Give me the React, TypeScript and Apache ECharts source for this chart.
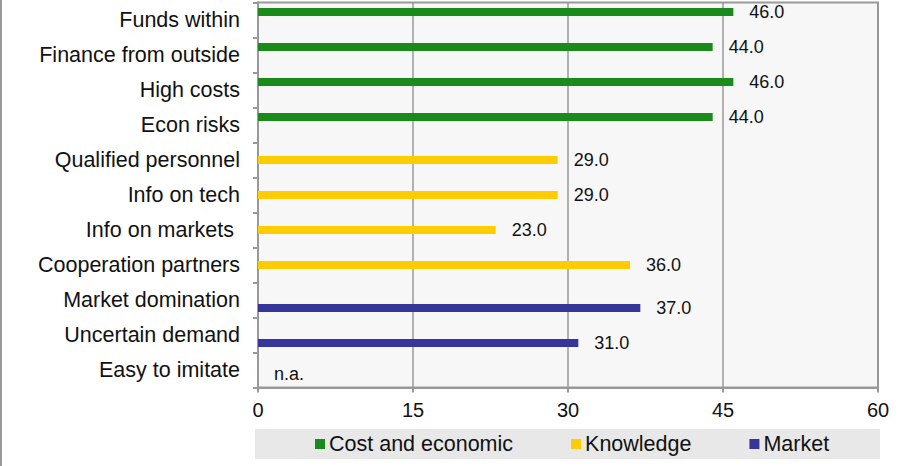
import React, { useEffect, useRef } from "react";
import * as echarts from "echarts";

const categories = [
  "Funds within",
  "Finance from outside",
  "High costs",
  "Econ risks",
  "Qualified personnel",
  "Info on tech",
  "Info on markets ",
  "Cooperation partners",
  "Market domination",
  "Uncertain demand",
  "Easy to imitate",
];
const costValues: (number | null)[] = [46, 44, 46, 44, null, null, null, null, null, null, null];
const knowledgeValues: (number | null)[] = [null, null, null, null, 29, 29, 23, 36, null, null, null];
const marketValues: (number | string | null)[] = [null, null, null, null, null, null, null, null, 37, 31, "n.a."];
const xTicks = { min: 0, max: 60, interval: 15 };
const seriesNames = ["Cost and economic", "Knowledge", "Market"];
const colors = ["#1a8a1a", "#ffcc00", "#35359a"];

const FONT = "'Liberation Sans', Arial, sans-serif";

export default function App() {
  const ref = useRef<HTMLDivElement>(null);
  useEffect(() => {
    if (!ref.current) return;
    const chart = echarts.init(ref.current, undefined, { renderer: "svg" });
    const label = {
      show: true,
      position: "right" as const,
      distance: 16,
      fontSize: 18,
      fontFamily: FONT,
      color: "#111",
      formatter: (p: any) => (typeof p.value === "number" ? p.value.toFixed(1) : ""),
    };
    const mkData = (arr: (number | string | null)[]) =>
      arr.map((v) =>
        v === "n.a."
          ? { value: 0, label: { formatter: "n.a.", offset: [0, -4] } }
          : v
      );
    chart.setOption({
      animation: false,
      textStyle: { fontFamily: FONT },
      grid: {
        left: 258,
        right: 32,
        top: 2.5,
        bottom: 78.5,
        show: true,
        backgroundColor: "#f7f7f7",
        borderColor: "#999",
        borderWidth: 2,
      },
      graphic: [
        {
          type: "rect",
          z: -1,
          shape: { x: 255, y: 429, width: 625, height: 30 },
          style: { fill: "#e8e8e8" },
        },
        {
          type: "line",
          shape: { x1: 1, y1: 0, x2: 1, y2: 466 },
          style: { stroke: "#999", lineWidth: 2 },
        },
      ],
      legend: {
        left: 310,
        top: 428,
        itemWidth: 10,
        itemHeight: 10,
        itemGap: 58,
        icon: "rect",
        textStyle: { fontSize: 21.5, fontFamily: FONT, color: "#111", padding: [0, 0, 0, -1] },
        data: seriesNames,
      },
      xAxis: {
        type: "value",
        min: xTicks.min,
        max: xTicks.max,
        interval: xTicks.interval,
        axisLine: { show: true, lineStyle: { color: "#999", width: 2 } },
        axisTick: { show: true, length: 5, lineStyle: { color: "#999", width: 2 } },
        axisLabel: { fontSize: 20, fontFamily: FONT, color: "#111", margin: 12 },
        splitLine: { show: true, lineStyle: { color: "#999", width: 1.5 } },
      },
      yAxis: {
        type: "category",
        inverse: true,
        data: categories,
        axisLine: { show: true, lineStyle: { color: "#999", width: 2 } },
        axisTick: { show: true, length: 5, alignWithLabel: false, lineStyle: { color: "#999", width: 2 } },
        axisLabel: { fontSize: 21.5, fontFamily: FONT, color: "#111", margin: 18 },
        splitLine: { show: false },
      },
      series: [
        { name: seriesNames[0], type: "bar", data: mkData(costValues), barWidth: 8, barGap: "0%", itemStyle: { color: colors[0] }, label },
        { name: seriesNames[1], type: "bar", data: mkData(knowledgeValues), barWidth: 8, barGap: "0%", itemStyle: { color: colors[1] }, label },
        { name: seriesNames[2], type: "bar", data: mkData(marketValues), barWidth: 8, barGap: "0%", itemStyle: { color: colors[2] }, label },
      ],
    });
    return () => chart.dispose();
  }, []);
  return (
    <div
      ref={ref}
      style={{ position: "absolute", left: 0, top: 0, width: 910, height: 466, background: "#fff" }}
    />
  );
}
